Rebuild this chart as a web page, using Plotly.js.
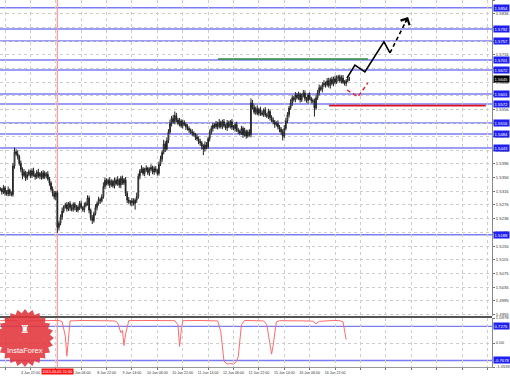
<!DOCTYPE html>
<html><head><meta charset="utf-8">
<script src="https://cdn.plot.ly/plotly-3.0.1.min.js"></script>
<style>html,body{margin:0;padding:0;background:#fff;}#chart{width:510px;height:377px;}</style>
</head><body><div id="chart"></div>
<script>
// ---------- DATA (hourly bars, index 0 = 4 Jun 03:00) ----------
const firstOpen = 1.5322;
const closePrice = [
1.5322,1.5314,1.5326,1.5312,1.5308,1.5320,1.5310,1.5306,
1.5390,1.5432,
1.5425,1.5418,1.5398,
1.5380,1.5362,1.5372,1.5355,1.5365,
1.5374,1.5362,1.5376,1.5364,1.5358,1.5372,1.5360,1.5368,1.5356,1.5370,1.5360,1.5366,1.5352,
1.5340,1.5322,1.5310,1.5300,1.5312,
1.5210,
1.5222,1.5240,1.5258,1.5270,
1.5276,1.5264,1.5280,1.5268,1.5262,1.5278,1.5268,1.5260,1.5270,1.5280,1.5268,1.5262,1.5274,1.5280,
1.5296,
1.5260,1.5238,1.5230,
1.5250,1.5268,1.5280,1.5292,1.5288,1.5300,
1.5330,1.5348,
1.5338,1.5348,1.5334,1.5345,1.5332,1.5348,1.5338,1.5350,1.5334,1.5354,1.5340,1.5350,
1.5310,1.5290,1.5285,1.5282,1.5288,1.5280,1.5290,1.5300,
1.5360,1.5375,
1.5382,1.5368,1.5378,1.5384,1.5370,1.5380,1.5386,1.5372,1.5382,1.5376,1.5368,
1.5395,1.5410,1.5430,1.5455,1.5440,1.5465,1.5490,
1.5515,1.5530,1.5520,1.5538,1.5525,
1.5515,1.5522,1.5508,1.5518,1.5512,1.5505,
1.5500,1.5495,1.5490,1.5486,1.5482,1.5475,1.5470,1.5462,
1.5458,1.5448,1.5440,1.5452,1.5445,1.5470,
1.5488,1.5500,1.5510,1.5505,1.5514,
1.5505,1.5518,1.5506,1.5520,1.5508,1.5502,1.5516,1.5506,1.5520,1.5504,1.5500,1.5512,1.5496,
1.5492,1.5486,1.5500,1.5482,1.5492,1.5478,1.5490,1.5482,
1.5575,
1.5562,1.5548,1.5558,1.5544,1.5556,1.5546,1.5542,1.5554,1.5540,1.5536,1.5550,1.5532,
1.5525,1.5520,1.5512,1.5515,1.5505,1.5498,1.5490,1.5478,
1.5500,1.5522,1.5540,
1.5560,1.5575,1.5590,1.5585,1.5598,
1.5590,1.5600,1.5584,1.5596,1.5604,1.5588,1.5582,1.5598,1.5588,1.5582,
1.5580,1.5560,1.5590,
1.5605,1.5620,1.5615,1.5628,1.5632,
1.5628,1.5640,1.5626,1.5644,1.5632,1.5646,1.5636,1.5648,1.5652,1.5640,1.5648,1.5636,1.5632,1.5640,1.5646,1.5645];
// upper / lower shadows in pips
const upperWickPips = [
6,4,8,5,7,10,4,6,9,12, 7,11,5,8,6,9,4,8,6,5,
7,9,5,6,10,4,7,8,5,6, 9,6,5,8,7,5,6,6,8,10,
5,6,8,4,7,9,5,6,8,5, 7,8,4,9,6,8,7,5,8,6,
10,6,8,5,7,12,8,6,5,9, 6,5,8,6,10,4,7,8,5,8,
6,9,5,8,7,5,12,8,6,10, 5,7,8,4,6,9,5,7,8,5,
8,10,6,12,8,9,8,11,7,10, 12,8,6,9,5,8,6,5,8,7,
5,8,6,5,9,7,8,5,6,10, 8,6,9,8,7,5,8,6,10,5,
6,8,5,9,7,5,8,6,5,8, 6,5,8,6,10,5,6,8,13,9,
8,6,10,5,8,7,5,9,6,8, 5,7,8,5,6,9,5,6,8,10,
9,8,6,11,8,6,9,6,8,5, 6,9,8,5,6,8,5,6,8,9,
8,9,6,8,10,6,8,9,5,8, 6,9,8,5,6,8,9,6,5,8,6];
const lowerWickPips = [
5,8,6,9,5,7,8,5,6,8, 5,9,7,8,11,5,9,6,5,8,
6,5,8,6,5,9,6,5,8,6, 5,8,6,9,8,10,16,9,6,8,
6,5,8,6,9,5,6,8,5,6, 9,5,6,8,5,6,9,8,10,6,
5,8,6,9,5,6,8,5,6,9, 5,6,8,5,6,8,9,5,6,8,
9,6,8,10,6,18,8,6,9,5, 6,8,5,6,9,5,6,8,5,6,
6,5,8,6,9,5,8,6,9,5, 8,6,5,9,6,8,5,9,6,8,
6,8,5,9,6,8,9,10,18,8, 6,5,8,6,9,5,6,8,5,6,
8,5,6,9,5,6,8,5,9,6, 8,6,5,9,6,8,5,6,8,6,
6,8,5,6,9,5,8,6,5,8, 9,6,8,10,6,8,9,8,13,6,
5,6,8,5,9,6,8,5,6,8, 6,5,8,6,9,5,8,6,25,6,
6,8,5,9,6,8,5,6,9,5, 8,6,5,9,6,8,5,6,8,5,6];

const priceTickText = ["1.4955","1.4995","1.5035","1.5075","1.5115","1.5155","1.5195","1.5236","1.5276","1.5316","1.5356","1.5396","1.5436","1.5476","1.5516","1.5556","1.5596","1.5636","1.5676","1.5716","1.5756","1.5796","1.5836","1.5876"];
const timeTickIndex = [3,19,35,51,67,83,99,115,131,147,163,179,195,211,227,243,259,275,291,307];
const timeTickText = ["4 Jun 06:00","4 Jun 22:00","","8 Jun 06:00","8 Jun 22:00","9 Jun 14:00","10 Jun 06:00","10 Jun 22:00","11 Jun 14:00","12 Jun 06:00","12 Jun 22:00","15 Jun 14:00","16 Jun 06:00","16 Jun 22:00","","","","","",""];
const markerBarIndex = 36;
const markerLabel = "2015.06.05 15:00";

const levelPrices = [1.5854,1.5792,1.5757,1.5701,1.5672,1.5601,1.5572,1.5516,1.5484,1.5443,1.5188];
const greenLineX = [137.2,231.7], greenLineY = [1.5704,1.5704];
const redLineX = [207.2,306], redLineY = [1.5567,1.5567];
const blackPathX = [218.5,223.5,229.8,241.8,245.6], blackPathY = [1.5648,1.5686,1.5666,1.5754,1.5722];
const blackDashX = [245.6,257], blackDashY = [1.5722,1.5827];
const redPathX = [218.5,225.4,231.7], redPathY = [1.5613,1.5593,1.5634];

const indX = [0,6,11,13,14,16,24,30,37,39,41,42,43,44,52,60,68,72,74,76,77,78,79,81,90,100,110,112,113,114,115,124,132,137,139,140,141,143,145,147,149,150,152,154,160,166,168,170,171,172,174,176,185,192,197,199,201,205,210,214,216,218];
const indY = [0.98,1.00,0.99,0.70,0.45,0.97,0.99,0.98,0.99,0.94,0.30,-0.58,0.20,0.97,0.99,0.98,0.99,0.97,0.90,0.45,0.55,-0.11,0.40,0.98,0.99,0.98,0.98,0.80,-0.15,0.50,0.98,0.99,0.98,0.97,0.50,-0.20,-0.79,-0.92,-0.90,-0.93,-0.80,-0.60,0.80,0.99,0.98,0.97,0.80,-0.20,-0.49,-0.10,0.93,0.98,0.99,0.97,0.96,0.84,0.95,0.98,0.99,0.98,0.93,0.15];
const indLevels = [0.7275,-0.7678];
const indTickVals = [1.0978,0,-1.0536];
const indTickText = ["1.0978","0.00","-1.0536"];

// ---------- BUILD ----------
const n = closePrice.length;
const idx = [], op = [], hi = [], lo = [];
for (let i = 0; i < n; i++) {
  idx.push(i);
  const o = i === 0 ? firstOpen : closePrice[i-1];
  const c = closePrice[i];
  op.push(o);
  hi.push(+(Math.max(o,c) + upperWickPips[i]*0.0001).toFixed(4));
  lo.push(+(Math.min(o,c) - lowerWickPips[i]*0.0001).toFixed(4));
}

const traces = [
  {type:'candlestick', x:idx, open:op, high:hi, low:lo, close:closePrice, xaxis:'x', yaxis:'y',
   whiskerwidth:0,
   increasing:{line:{color:'#222',width:1}, fillcolor:'#ffffff'},
   decreasing:{line:{color:'#222',width:1}, fillcolor:'#222222'}, hoverinfo:'skip'},
  {type:'scatter', mode:'lines', x:greenLineX, y:greenLineY, line:{color:'#2e8b3e',width:1.6}, xaxis:'x', yaxis:'y'},
  {type:'scatter', mode:'lines', x:redLineX, y:redLineY, line:{color:'#e0101a',width:1.6}, xaxis:'x', yaxis:'y'},
  {type:'scatter', mode:'lines', x:blackPathX, y:blackPathY, line:{color:'#000',width:1.6}, xaxis:'x', yaxis:'y'},
  {type:'scatter', mode:'lines', x:blackDashX, y:blackDashY, line:{color:'#000',width:1.6,dash:'4px,3px'}, xaxis:'x', yaxis:'y'},
  {type:'scatter', mode:'lines', x:redPathX, y:redPathY, line:{color:'#f02020',width:1.4,dash:'4px,3px'}, xaxis:'x', yaxis:'y'},
  {type:'scatter', mode:'lines', x:indX, y:indY, line:{color:'#ff6b6b',width:1}, xaxis:'x', yaxis:'y2'}
];

const mainBottom = 51/367, indTop = 49/367;
const shapes = [];
levelPrices.forEach(p => shapes.push({type:'line', xref:'paper', x0:0, x1:1, yref:'y', y0:p, y1:p, layer:'between', line:{color:'#7c7cf2', width:1.5}}));
indLevels.forEach(p => shapes.push({type:'line', xref:'paper', x0:0, x1:1, yref:'y2', y0:p, y1:p, layer:'between', line:{color:'#7c7cf2', width:1.3}}));
shapes.push({type:'line', xref:'x', x0:markerBarIndex, x1:markerBarIndex, yref:'paper', y0:0, y1:1, layer:'between', line:{color:'#ff9c9c', width:1.3}});
// pane separator
shapes.push({type:'line', xref:'paper', x0:0, x1:1, yref:'paper', y0:(mainBottom+indTop)/2, y1:(mainBottom+indTop)/2, line:{color:'#555', width:2}});

// logo badge (decoration)
function px2paper(px, py){ return [px/492, (367-py)/367]; }
(function(){
  const cx=25, cy=338, rO=29, rI=25, k=24; let d='';
  for (let j=0;j<2*k;j++){ const a=j*Math.PI/k - Math.PI/2; const r=j%2?rI:rO;
    const p=px2paper(cx+r*Math.cos(a), cy+r*Math.sin(a)); d+=(j?'L':'M')+p[0].toFixed(5)+','+p[1].toFixed(5); }
  shapes.push({type:'path', xref:'paper', yref:'paper', path:d+'Z', fillcolor:'rgba(226,52,58,0.88)', line:{width:0}, layer:'above'});
})();

const annotations = [];
function boxLabel(y, yref, text, bg){
  annotations.push({xref:'paper', x:1, xanchor:'left', xshift:1, yref:yref, y:y, yanchor:'middle', text:text, showarrow:false,
    bgcolor:bg, borderpad:0.6, font:{size:4.2, color:'#fff', family:'Liberation Sans, Arial, sans-serif'}});
}
levelPrices.forEach(p => boxLabel(p, 'y', p.toFixed(4), '#1f1ff0'));
boxLabel(closePrice[n-1], 'y', closePrice[n-1].toFixed(4), '#000');
indLevels.forEach(p => boxLabel(p, 'y2', p.toFixed(4), '#1f1ff0'));
annotations.push({xref:'x', x:markerBarIndex, xanchor:'center', yref:'paper', y:-0.0109, yanchor:'middle', text:markerLabel, showarrow:false,
  bgcolor:'#ff1010', borderpad:0.6, font:{size:3.8, color:'#fff'}});
function head(xs, ys, color){
  const m=xs.length, tx=xs[m-1], ty=ys[m-1], px=xs[m-2], py=ys[m-2];
  annotations.push({xref:'x', yref:'y', axref:'x', ayref:'y', x:tx, y:ty, ax:tx-(tx-px)*0.2, ay:ty-(ty-py)*0.2,
    showarrow:true, arrowhead:4, arrowsize:1.3, arrowwidth:1.5, arrowcolor:color, text:''});
}
head(blackDashX, blackDashY, '#000');
head(redPathX, redPathY, '#f02020');
// badge texts
(function(){
  const a=px2paper(25,329), b=px2paper(25,350);
  annotations.push({xref:'paper', yref:'paper', x:a[0], y:a[1], xanchor:'center', yanchor:'middle', text:'♜', showarrow:false, font:{size:11,color:'#fff',family:'DejaVu Sans'}});
  annotations.push({xref:'paper', yref:'paper', x:b[0], y:b[1], xanchor:'center', yanchor:'middle', text:'InstaForex', showarrow:false, font:{size:7.5,color:'#fff',family:'Liberation Sans, Arial, sans-serif'}});
})();

const grid = {showgrid:true, gridcolor:'#cdcdcd', griddash:'dot', gridwidth:1};
const layout = {
  width:510, height:377, margin:{l:0, r:18, t:0, b:10, pad:0},
  paper_bgcolor:'#fff', plot_bgcolor:'#fff', showlegend:false, hovermode:false,
  font:{family:'Liberation Sans, Arial, sans-serif', size:4, color:'#333'},
  xaxis:Object.assign({domain:[0,1], anchor:'y2', range:[-0.15,309.9], rangeslider:{visible:false},
    tickmode:'array', tickvals:timeTickIndex, ticktext:timeTickText, ticks:'outside', ticklen:2, tickcolor:'#777',
    tickfont:{size:3.6, color:'#333'}, ticklabelshift:11.5, ticklabelstandoff:0,
    showline:true, linecolor:'#999', linewidth:1, zeroline:false}, grid),
  yaxis:Object.assign({domain:[mainBottom,1], anchor:'x', side:'right', range:[1.4950,1.5877],
    tickmode:'array', tickvals:priceTickText.map(parseFloat), ticktext:priceTickText,
    ticks:'outside', ticklen:2, tickcolor:'#777', tickfont:{size:4.2, color:'#333'},
    showline:true, linecolor:'#888', linewidth:1, zeroline:false}, grid),
  yaxis2:Object.assign({domain:[0,indTop], anchor:'x', side:'right', range:[-1.0536,1.0978],
    tickmode:'array', tickvals:indTickVals, ticktext:indTickText,
    ticks:'outside', ticklen:2, tickcolor:'#777', tickfont:{size:4.2, color:'#333'},
    showline:true, linecolor:'#888', linewidth:1, zeroline:false}, grid),
  shapes:shapes, annotations:annotations
};
Plotly.newPlot('chart', traces, layout, {staticPlot:true, displayModeBar:false});
</script></body></html>
